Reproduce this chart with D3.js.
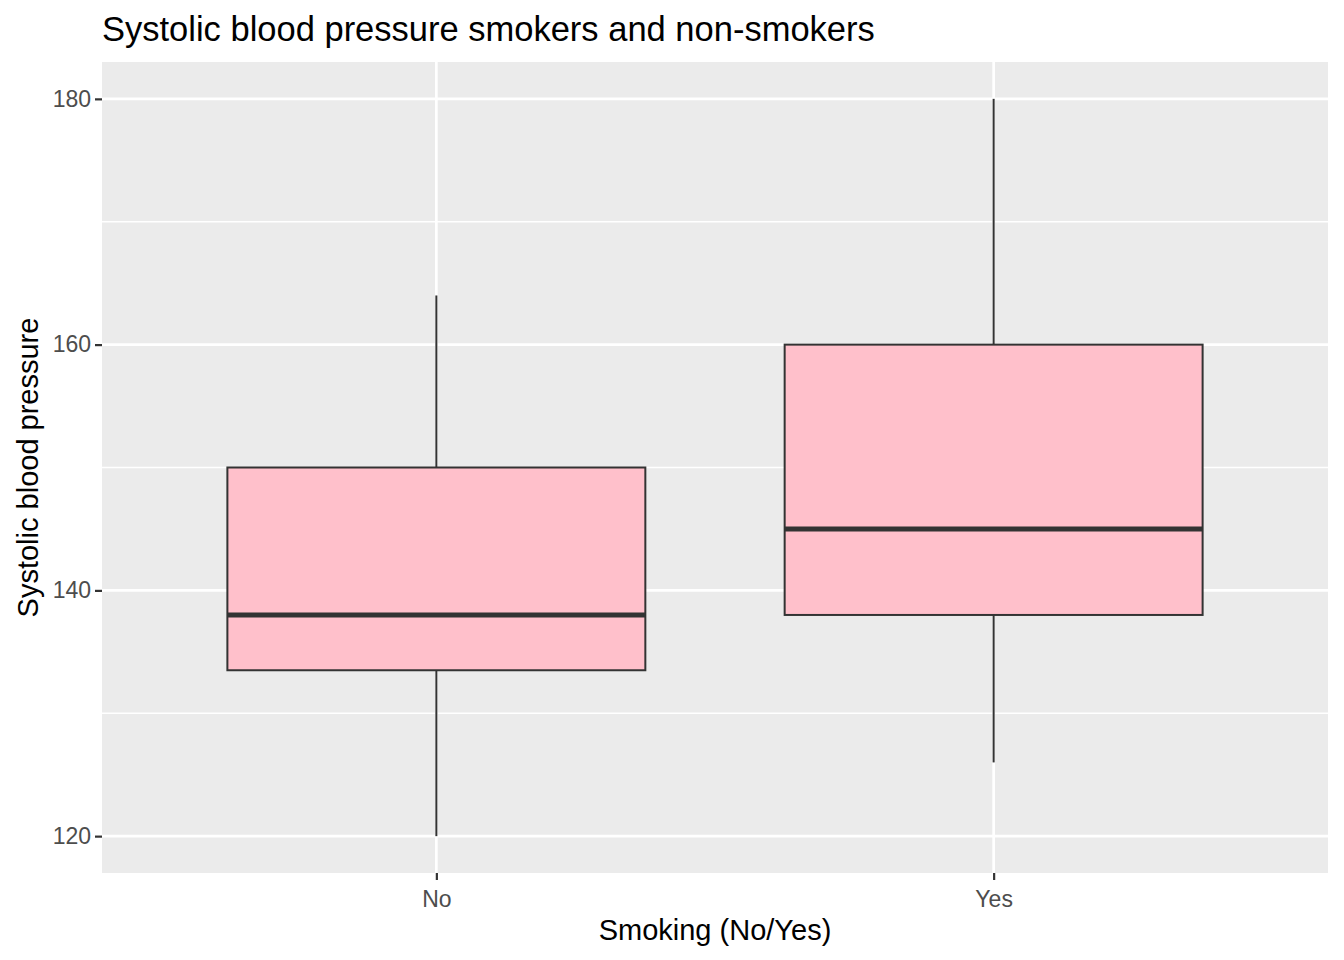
<!DOCTYPE html>
<html>
<head>
<meta charset="utf-8">
<script src="https://cdn.jsdelivr.net/npm/d3@7"></script>
<style>
  body { margin: 0; background: #fff; }
  text { font-family: "Liberation Sans", Arial, sans-serif; }
</style>
</head>
<body>
<script>
// data
var groups = ["No", "Yes"];
var lowerWhisker = [120, 126];
var q1 = [133.5, 138];
var medians = [138, 145];
var q3 = [150, 160];
var upperWhisker = [164, 180];
var yTicks = [120, 140, 160, 180];
var yMinor = [130, 150, 170];

var width = 1344, height = 960;
var margin = {top: 62, right: 16, bottom: 87, left: 102};
var pw = width - margin.left - margin.right;
var ph = height - margin.top - margin.bottom;

var svg = d3.select("body").append("svg")
    .attr("width", width)
    .attr("height", height);

// discrete x scale with ggplot's 0.6 expansion
var x = d3.scaleLinear().domain([0.4, 2.6]).range([0, pw]);
var y = d3.scaleLinear().domain([117, 183]).range([ph, 0]);

var g = svg.append("g")
    .attr("transform", "translate(" + margin.left + "," + margin.top + ")");

g.append("rect")
    .attr("width", pw).attr("height", ph)
    .attr("fill", "#EBEBEB");

// grid lines
g.selectAll("line.minor").data(yMinor).enter().append("line")
    .attr("x1", 0).attr("x2", pw)
    .attr("y1", function(d) { return y(d); }).attr("y2", function(d) { return y(d); })
    .attr("stroke", "#fff").attr("stroke-width", 1.4);

g.selectAll("line.majory").data(yTicks).enter().append("line")
    .attr("x1", 0).attr("x2", pw)
    .attr("y1", function(d) { return y(d); }).attr("y2", function(d) { return y(d); })
    .attr("stroke", "#fff").attr("stroke-width", 2.7);

g.selectAll("line.majorx").data(groups).enter().append("line")
    .attr("x1", function(d, i) { return x(i + 1); }).attr("x2", function(d, i) { return x(i + 1); })
    .attr("y1", 0).attr("y2", ph)
    .attr("stroke", "#fff").attr("stroke-width", 2.7);

// boxes
var boxW = 0.75;
var boxes = g.selectAll("g.box").data(groups).enter().append("g").attr("class", "box");

boxes.append("line")
    .attr("x1", function(d, i) { return x(i + 1); }).attr("x2", function(d, i) { return x(i + 1); })
    .attr("y1", function(d, i) { return y(q3[i]); }).attr("y2", function(d, i) { return y(upperWhisker[i]); })
    .attr("stroke", "#333").attr("stroke-width", 2);

boxes.append("line")
    .attr("x1", function(d, i) { return x(i + 1); }).attr("x2", function(d, i) { return x(i + 1); })
    .attr("y1", function(d, i) { return y(q1[i]); }).attr("y2", function(d, i) { return y(lowerWhisker[i]); })
    .attr("stroke", "#333").attr("stroke-width", 2);

boxes.append("rect")
    .attr("x", function(d, i) { return x(i + 1 - boxW / 2); })
    .attr("width", x(1 + boxW / 2) - x(1 - boxW / 2))
    .attr("y", function(d, i) { return y(q3[i]); })
    .attr("height", function(d, i) { return y(q1[i]) - y(q3[i]); })
    .attr("fill", "#FFC0CB").attr("stroke", "#333").attr("stroke-width", 2);

boxes.append("line")
    .attr("x1", function(d, i) { return x(i + 1 - boxW / 2); })
    .attr("x2", function(d, i) { return x(i + 1 + boxW / 2); })
    .attr("y1", function(d, i) { return y(medians[i]); }).attr("y2", function(d, i) { return y(medians[i]); })
    .attr("stroke", "#333").attr("stroke-width", 5);

// axes
var yAxis = g.append("g")
    .call(d3.axisLeft(y).tickValues(yTicks).tickSize(7).tickPadding(4));
var xAxis = g.append("g")
    .attr("transform", "translate(0," + ph + ")")
    .call(d3.axisBottom(x).tickValues([1, 2]).tickSize(7).tickPadding(11)
        .tickFormat(function(d) { return groups[d - 1]; }));

[yAxis, xAxis].forEach(function(a) {
  a.select(".domain").remove();
  a.selectAll(".tick line").attr("stroke", "#333").attr("stroke-width", 2.2);
  a.selectAll(".tick text").attr("fill", "#4D4D4D").style("font-size", "23px")
    .style("font-family", "'Liberation Sans', Arial, sans-serif");
});

// titles
svg.append("text")
    .attr("x", margin.left).attr("y", 41)
    .style("font-size", "34.5px").attr("fill", "#000")
    .text("Systolic blood pressure smokers and non-smokers");

svg.append("text")
    .attr("x", margin.left + pw / 2).attr("y", 940)
    .attr("text-anchor", "middle")
    .style("font-size", "29px").attr("fill", "#000")
    .text("Smoking (No/Yes)");

svg.append("text")
    .attr("transform", "translate(38," + (margin.top + ph / 2) + ") rotate(-90)")
    .attr("text-anchor", "middle")
    .style("font-size", "29px").attr("fill", "#000")
    .text("Systolic blood pressure");
</script>
</body>
</html>
